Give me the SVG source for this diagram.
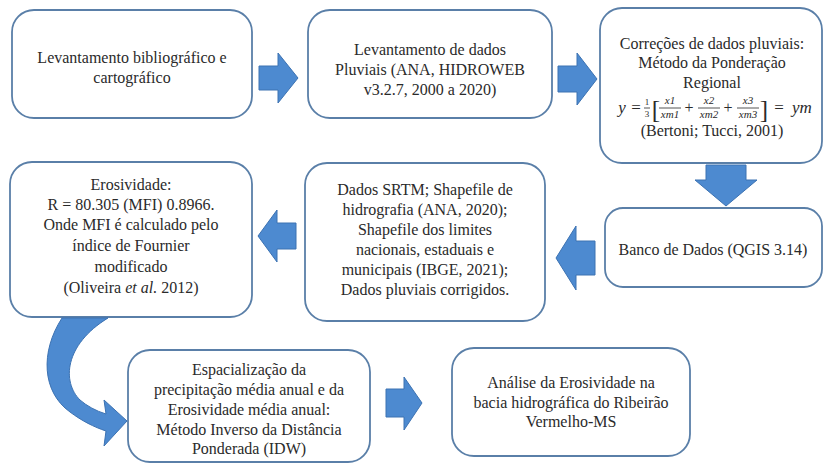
<svg xmlns="http://www.w3.org/2000/svg" width="832" height="464" viewBox="0 0 832 464">
<rect width="832" height="464" fill="#fff"/>
<g id="n1">
<rect fill="#fff" stroke="#5a7fa8" stroke-width="1.8" x="12" y="10" width="240" height="108" rx="22"/>
<text font-family="Liberation Serif" font-size="16" fill="#2a2a2a" text-anchor="middle" x="132" y="63">Levantamento bibliográfico e</text>
<text font-family="Liberation Serif" font-size="16" fill="#2a2a2a" text-anchor="middle" x="132" y="83">cartográfico</text>
</g>
<g id="n2">
<rect fill="#fff" stroke="#5a7fa8" stroke-width="1.8" x="308" y="10" width="244" height="108" rx="22"/>
<text font-family="Liberation Serif" font-size="16" fill="#2a2a2a" text-anchor="middle" x="430" y="55">Levantamento de dados</text>
<text font-family="Liberation Serif" font-size="16" fill="#2a2a2a" text-anchor="middle" x="430" y="75">Pluviais (ANA, HIDROWEB</text>
<text font-family="Liberation Serif" font-size="16" fill="#2a2a2a" text-anchor="middle" x="430" y="95">v3.2.7, 2000 a 2020)</text>
</g>
<g id="n3">
<rect fill="#fff" stroke="#5a7fa8" stroke-width="1.8" x="600" y="8" width="222" height="155" rx="22"/>
<text font-family="Liberation Serif" font-size="16" fill="#2a2a2a" text-anchor="middle" x="712" y="49">Correções de dados pluviais:</text>
<text font-family="Liberation Serif" font-size="16" fill="#2a2a2a" text-anchor="middle" x="712" y="68">Método da Ponderação</text>
<text font-family="Liberation Serif" font-size="16" fill="#2a2a2a" text-anchor="middle" x="712" y="88">Regional</text>
<text font-family="Liberation Serif" font-size="17" fill="#2a2a2a" text-anchor="middle" font-style="italic" x="622" y="113">y</text>
<text font-family="Liberation Serif" font-size="17" fill="#2a2a2a" text-anchor="middle" x="636" y="113">=</text>
<text font-family="Liberation Serif" font-size="9" fill="#2a2a2a" text-anchor="middle" x="647" y="105">1</text>
<line x1="644" y1="108" x2="650" y2="108" stroke="#2a2a2a" stroke-width="0.8"/>
<text font-family="Liberation Serif" font-size="9" fill="#2a2a2a" text-anchor="middle" x="647" y="117">3</text>
<text font-family="Liberation Serif" font-size="25" fill="#2a2a2a" text-anchor="middle" x="656" y="118">[</text>
<text font-family="Liberation Serif" font-size="11" fill="#2a2a2a" text-anchor="middle" font-style="italic" x="670" y="104">x1</text>
<line x1="659" y1="108" x2="681" y2="108" stroke="#2a2a2a" stroke-width="0.8"/>
<text font-family="Liberation Serif" font-size="11" fill="#2a2a2a" text-anchor="middle" font-style="italic" x="670" y="118">xm1</text>
<text font-family="Liberation Serif" font-size="16" fill="#2a2a2a" text-anchor="middle" x="689" y="113">+</text>
<text font-family="Liberation Serif" font-size="11" fill="#2a2a2a" text-anchor="middle" font-style="italic" x="709" y="104">x2</text>
<line x1="698" y1="108" x2="720" y2="108" stroke="#2a2a2a" stroke-width="0.8"/>
<text font-family="Liberation Serif" font-size="11" fill="#2a2a2a" text-anchor="middle" font-style="italic" x="709" y="118">xm2</text>
<text font-family="Liberation Serif" font-size="16" fill="#2a2a2a" text-anchor="middle" x="728" y="113">+</text>
<text font-family="Liberation Serif" font-size="11" fill="#2a2a2a" text-anchor="middle" font-style="italic" x="748" y="104">x3</text>
<line x1="737" y1="108" x2="759" y2="108" stroke="#2a2a2a" stroke-width="0.8"/>
<text font-family="Liberation Serif" font-size="11" fill="#2a2a2a" text-anchor="middle" font-style="italic" x="748" y="118">xm3</text>
<text font-family="Liberation Serif" font-size="25" fill="#2a2a2a" text-anchor="middle" x="764" y="118">]</text>
<text font-family="Liberation Serif" font-size="17" fill="#2a2a2a" text-anchor="middle" x="779" y="113">=</text>
<text font-family="Liberation Serif" font-size="17" fill="#2a2a2a" text-anchor="middle" font-style="italic" x="802" y="113">ym</text>
<text font-family="Liberation Serif" font-size="16" fill="#2a2a2a" text-anchor="middle" x="712" y="136">(Bertoni; Tucci, 2001)</text>
</g>
<g id="n4">
<rect fill="#fff" stroke="#5a7fa8" stroke-width="1.8" x="605" y="208" width="217" height="79" rx="18"/>
<text font-family="Liberation Serif" font-size="16" fill="#2a2a2a" text-anchor="middle" x="713" y="255">Banco de Dados (QGIS 3.14)</text>
</g>
<g id="n5">
<rect fill="#fff" stroke="#5a7fa8" stroke-width="1.8" x="305" y="163" width="240" height="158" rx="22"/>
<text font-family="Liberation Serif" font-size="16" fill="#2a2a2a" text-anchor="middle" x="425" y="195">Dados SRTM; Shapefile de</text>
<text font-family="Liberation Serif" font-size="16" fill="#2a2a2a" text-anchor="middle" x="425" y="215">hidrografia (ANA, 2020);</text>
<text font-family="Liberation Serif" font-size="16" fill="#2a2a2a" text-anchor="middle" x="425" y="235">Shapefile dos limites</text>
<text font-family="Liberation Serif" font-size="16" fill="#2a2a2a" text-anchor="middle" x="425" y="255">nacionais, estaduais e</text>
<text font-family="Liberation Serif" font-size="16" fill="#2a2a2a" text-anchor="middle" x="425" y="275">municipais (IBGE, 2021);</text>
<text font-family="Liberation Serif" font-size="16" fill="#2a2a2a" text-anchor="middle" x="425" y="295">Dados pluviais corrigidos.</text>
</g>
<g id="n6">
<rect fill="#fff" stroke="#5a7fa8" stroke-width="1.8" x="10" y="162" width="242" height="155" rx="22"/>
<text font-family="Liberation Serif" font-size="16" fill="#2a2a2a" text-anchor="middle" x="131" y="190">Erosividade:</text>
<text font-family="Liberation Serif" font-size="16" fill="#2a2a2a" text-anchor="middle" x="131" y="210">R = 80.305 (MFI) 0.8966.</text>
<text font-family="Liberation Serif" font-size="16" fill="#2a2a2a" text-anchor="middle" x="131" y="230">Onde MFI é calculado pelo</text>
<text font-family="Liberation Serif" font-size="16" fill="#2a2a2a" text-anchor="middle" x="131" y="251">índice de Fournier</text>
<text font-family="Liberation Serif" font-size="16" fill="#2a2a2a" text-anchor="middle" x="131" y="272">modificado</text>
<text font-family="Liberation Serif" font-size="16" fill="#2a2a2a" text-anchor="middle" x="131" y="293">(Oliveira <tspan font-style="italic">et al.</tspan> 2012)</text>
</g>
<g id="n7">
<rect fill="#fff" stroke="#5a7fa8" stroke-width="1.8" x="128" y="350" width="242" height="112" rx="22"/>
<text font-family="Liberation Serif" font-size="16" fill="#2a2a2a" text-anchor="middle" x="249" y="375">Espacialização da</text>
<text font-family="Liberation Serif" font-size="16" fill="#2a2a2a" text-anchor="middle" x="249" y="395">precipitação média anual e da</text>
<text font-family="Liberation Serif" font-size="16" fill="#2a2a2a" text-anchor="middle" x="249" y="415">Erosividade média anual:</text>
<text font-family="Liberation Serif" font-size="16" fill="#2a2a2a" text-anchor="middle" x="249" y="435">Método Inverso da Distância</text>
<text font-family="Liberation Serif" font-size="16" fill="#2a2a2a" text-anchor="middle" x="249" y="454">Ponderada (IDW)</text>
</g>
<g id="n8">
<rect fill="#fff" stroke="#5a7fa8" stroke-width="1.8" x="452" y="348" width="238" height="108" rx="22"/>
<text font-family="Liberation Serif" font-size="16" fill="#2a2a2a" text-anchor="middle" x="571" y="388">Análise da Erosividade na</text>
<text font-family="Liberation Serif" font-size="16" fill="#2a2a2a" text-anchor="middle" x="571" y="408">bacia hidrográfica do Ribeirão</text>
<text font-family="Liberation Serif" font-size="16" fill="#2a2a2a" text-anchor="middle" x="571" y="427">Vermelho-MS</text>
</g>
<g id="connectors" fill="#4d8ad0" stroke="#3c72b2" stroke-width="1">
<polygon points="259,66 278,66 278,53 298,78 278,103 278,90 259,90"/>
<polygon points="558,66 577,66 577,53 597,79 577,105 577,92 558,92"/>
<polygon points="706,165 746,165 746,180 757,180 726,206 695,180 706,180"/>
<polygon points="595,241 576,241 576,226 556,258 576,290 576,275 595,275"/>
<polygon points="296,223 277,223 277,210 258,236 277,262 277,249 296,249"/>
<path d="M62,318 C40,352 42,392 70,412 C82,421 94,427 106,431 L104,446 L127,421 L104,400 L106,414 C96,411 87,406 80,400 C62,382 64,345 108,318 Z"/>
<polygon points="386,389 404,389 404,377 422,403 404,430 404,417 386,417"/>
</g>
</svg>
